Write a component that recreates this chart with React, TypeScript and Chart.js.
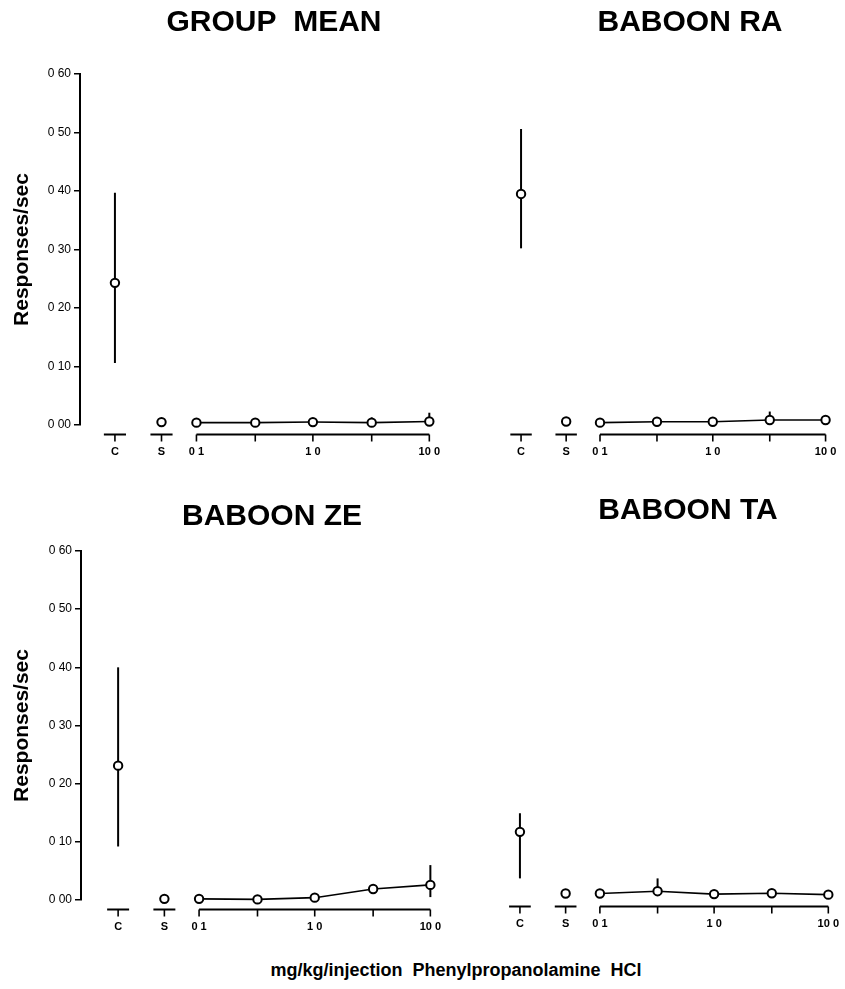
import React, { useEffect, useRef } from 'react';
import { Chart, registerables } from 'chart.js';

Chart.register(...registerables);

const FONT = '"Liberation Sans", Arial, Helvetica, sans-serif';

// ---------- data ----------
const conditionLabels = ['C', 'S'];
const doses = [0.1, 0.32, 1.0, 3.2, 10.0];
const xLabelDoses = [0.1, 1.0, 10.0];
const xTickLabels = ['C', 'S', '0 1', '1 0', '10 0'];
const yTickValues = [0, 0.1, 0.2, 0.3, 0.4, 0.5, 0.6];
const yTickLabels = ['0 00', '0 10', '0 20', '0 30', '0 40', '0 50', '0 60'];
const panelTitles = ['GROUP  MEAN', 'BABOON RA', 'BABOON ZE', 'BABOON TA'];
const yAxisTitle = 'Responses/sec';
const xAxisTitle = 'mg/kg/injection  Phenylpropanolamine  HCl';

// control: [mean, low, high]
const groupControl = [0.243, 0.106, 0.397];
const groupSaline = 0.005;
const groupDose = [0.004, 0.004, 0.005, 0.004, 0.006];
const groupDoseHigh = [null, null, null, 0.013, 0.021];
const groupDoseLow = [null, null, null, null, null];

const raControl = [0.395, 0.302, 0.506];
const raSaline = 0.006;
const raDose = [0.004, 0.0055, 0.0055, 0.0085, 0.0085];
const raDoseHigh = [null, null, null, 0.023, null];
const raDoseLow = [null, null, null, null, null];

const zeControl = [0.231, 0.092, 0.4];
const zeSaline = 0.002;
const zeDose = [0.002, 0.001, 0.004, 0.019, 0.026];
const zeDoseHigh = [null, null, null, 0.023, 0.06];
const zeDoseLow = [null, null, null, null, 0.005];

const taControl = [0.112, 0.032, 0.144];
const taSaline = 0.006;
const taDose = [0.006, 0.01, 0.005, 0.0065, 0.004];
const taDoseHigh = [null, 0.032, null, null, null];
const taDoseLow = [null, null, null, null, null];

// ---------- layout (not data) ----------
const C_POS = -1.7;
const S_POS = -1.3;
const SEG_HALF = 0.095;
const AXIS_GAP = 9.5;
const TICK_LEN = 7;

type PanelDef = {
  title: string;
  control: number[];
  saline: number;
  dose: number[];
  doseHigh: (number | null)[];
  doseLow: (number | null)[];
  showY: boolean;
  yWidth: number;
  box: { left: number; top: number; width: number; height: number };
  xMin: number;
  xMax: number;
  titlePad: { top: number; bottom: number };
};

const panels: PanelDef[] = [
  {
    title: panelTitles[0], control: groupControl, saline: groupSaline, dose: groupDose,
    doseHigh: groupDoseHigh, doseLow: groupDoseLow, showY: true, yWidth: 80,
    box: { left: 0, top: 0, width: 548, height: 465 }, xMin: -2.0, xMax: 1.966,
    titlePad: { top: 5, bottom: 33 },
  },
  {
    title: panelTitles[1], control: raControl, saline: raSaline, dose: raDose,
    doseHigh: raDoseHigh, doseLow: raDoseLow, showY: false, yWidth: 0,
    box: { left: 495, top: 0, width: 390, height: 465 }, xMin: -1.876, xMax: 1.472,
    titlePad: { top: 5, bottom: 33 },
  },
  {
    title: panelTitles[2], control: zeControl, saline: zeSaline, dose: zeDose,
    doseHigh: zeDoseHigh, doseLow: zeDoseLow, showY: true, yWidth: 81,
    box: { left: 0, top: 495, width: 544, height: 445 }, xMin: -2.021, xMax: 1.929,
    titlePad: { top: 4, bottom: 16 },
  },
  {
    title: panelTitles[3], control: taControl, saline: taSaline, dose: taDose,
    doseHigh: taDoseHigh, doseLow: taDoseLow, showY: false, yWidth: 0,
    box: { left: 495, top: 489, width: 386, height: 448 }, xMin: -1.864, xMax: 1.407,
    titlePad: { top: 4, bottom: 19 },
  },
];

const decorPlugin = {
  id: 'decor',
  beforeDatasetsDraw(chart: any, _args: any, opts: any) {
    const { ctx } = chart;
    const xs = chart.scales.x;
    const ys = chart.scales.y;
    ctx.save();
    ctx.strokeStyle = '#000';
    ctx.lineCap = 'butt';
    // error bars
    ctx.lineWidth = 2;
    for (const b of opts.bars || []) {
      const px = xs.getPixelForValue(b.x);
      ctx.beginPath();
      ctx.moveTo(px, ys.getPixelForValue(b.lo));
      ctx.lineTo(px, ys.getPixelForValue(b.hi));
      ctx.stroke();
    }
    // broken x axis segments
    const y0 = ys.getPixelForValue(0) + AXIS_GAP;
    const drawSeg = (from: number, to: number, ticks: number[]) => {
      ctx.lineWidth = 2;
      ctx.beginPath();
      ctx.moveTo(xs.getPixelForValue(from), y0);
      ctx.lineTo(xs.getPixelForValue(to), y0);
      ctx.stroke();
      ctx.lineWidth = 1.6;
      for (const t of ticks) {
        const px = xs.getPixelForValue(t);
        ctx.beginPath();
        ctx.moveTo(px, y0);
        ctx.lineTo(px, y0 + TICK_LEN);
        ctx.stroke();
      }
    };
    drawSeg(C_POS - SEG_HALF, C_POS + SEG_HALF, [C_POS]);
    drawSeg(S_POS - SEG_HALF, S_POS + SEG_HALF, [S_POS]);
    const logs = doses.map((d) => Math.log10(d));
    drawSeg(logs[0], logs[logs.length - 1], logs);
    ctx.restore();
  },
};

function buildConfig(p: PanelDef): any {
  const pointStyle = {
    pointRadius: 4.2,
    pointBorderWidth: 2,
    pointBackgroundColor: '#fff',
    pointBorderColor: '#000',
    borderColor: '#000',
    backgroundColor: '#fff',
    clip: false as any,
  };
  const dosePts = doses.map((d, i) => ({ x: Math.log10(d), y: p.dose[i] }));
  const bars: any[] = [{ x: C_POS, lo: p.control[1], hi: p.control[2] }];
  doses.forEach((d, i) => {
    const hi = p.doseHigh[i];
    if (hi != null) {
      const lo = p.doseLow[i] != null ? p.doseLow[i] : p.dose[i];
      bars.push({ x: Math.log10(d), lo, hi });
    }
  });
  const xTickValues = [C_POS, S_POS, ...xLabelDoses.map((d) => Math.log10(d))];
  return {
    type: 'scatter',
    data: {
      datasets: [
        { label: conditionLabels[0], data: [{ x: C_POS, y: p.control[0] }], showLine: false, ...pointStyle },
        { label: conditionLabels[1], data: [{ x: S_POS, y: p.saline }], showLine: false, ...pointStyle },
        { label: 'dose', data: dosePts, showLine: true, borderWidth: 1.6, ...pointStyle },
      ],
    },
    options: {
      responsive: false,
      animation: false,
      devicePixelRatio: 1,
      layout: { padding: 0 },
      plugins: {
        legend: { display: false },
        tooltip: { enabled: false },
        title: {
          display: true,
          text: p.title,
          color: '#000',
          font: { family: FONT, size: 30, weight: 'bold' },
          padding: p.titlePad,
        },
        decor: { bars },
      },
      scales: {
        x: {
          type: 'linear',
          min: p.xMin,
          max: p.xMax,
          afterBuildTicks: (s: any) => {
            s.ticks = xTickValues.map((v) => ({ value: v }));
          },
          afterFit: (s: any) => {
            s.height = 40;
          },
          border: { display: false },
          grid: { display: false, drawTicks: false },
          ticks: {
            autoSkip: false,
            maxRotation: 0,
            color: '#000',
            padding: 20,
            font: { family: FONT, size: 11, weight: 'bold' },
            callback: (_v: any, i: number) => xTickLabels[i],
          },
        },
        y: {
          type: 'linear',
          display: p.showY,
          min: 0,
          max: 0.6,
          afterBuildTicks: (s: any) => {
            s.ticks = yTickValues.map((v) => ({ value: v }));
          },
          afterFit: (s: any) => {
            s.width = p.yWidth;
          },
          border: { display: true, color: '#000', width: 2 },
          grid: { display: true, drawOnChartArea: false, drawTicks: true, tickLength: 6, color: '#000', lineWidth: 1.5 },
          ticks: {
            color: '#000',
            padding: 3,
            font: { family: FONT, size: 12 },
            callback: (_v: any, i: number) => yTickLabels[i],
          },
          title: {
            display: true,
            text: yAxisTitle,
            color: '#000',
            font: { family: FONT, size: 21, weight: 'bold' },
            padding: { top: 10, bottom: 0 },
          },
        },
      },
    },
    plugins: [decorPlugin],
  };
}

function PanelChart({ p }: { p: PanelDef }) {
  const ref = useRef<HTMLCanvasElement | null>(null);
  useEffect(() => {
    if (!ref.current) return;
    const chart = new Chart(ref.current, buildConfig(p));
    return () => chart.destroy();
  }, [p]);
  return (
    <canvas
      ref={ref}
      width={p.box.width}
      height={p.box.height}
      style={{ position: 'absolute', left: p.box.left, top: p.box.top, width: p.box.width, height: p.box.height }}
    />
  );
}

export default function App() {
  return (
    <div
      style={{
        position: 'absolute',
        left: 0,
        top: 0,
        width: 845,
        height: 989,
        overflow: 'hidden',
        background: '#fff',
      }}
    >
      {panels.map((p, i) => (
        <PanelChart key={i} p={p} />
      ))}
      <div
        style={{
          position: 'absolute',
          left: 456,
          top: 960,
          transform: 'translateX(-50%)',
          whiteSpace: 'pre',
          fontFamily: FONT,
          fontWeight: 'bold',
          fontSize: 18,
          lineHeight: '20px',
          color: '#000',
        }}
      >
        {xAxisTitle}
      </div>
    </div>
  );
}
